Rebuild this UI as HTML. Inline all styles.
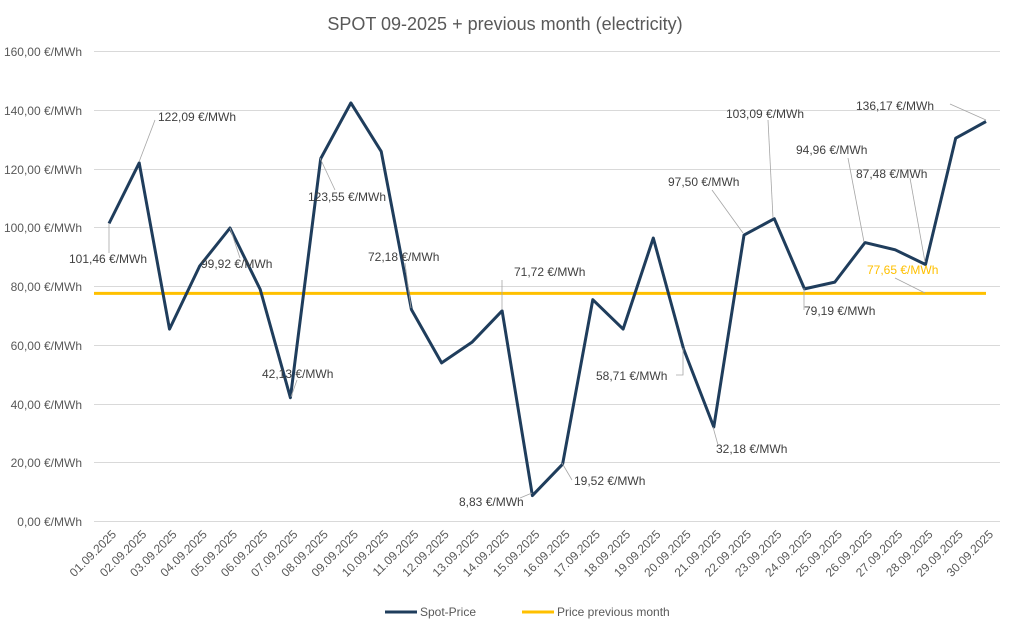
<!DOCTYPE html>
<html><head><meta charset="utf-8"><style>body{margin:0;background:#fff}svg{display:block;font-family:"Liberation Sans",sans-serif}</style></head><body>
<svg width="1024" height="634" viewBox="0 0 1024 634">
<text x="505" y="30" text-anchor="middle" font-size="18" fill="#595959">SPOT 09-2025 + previous month (electricity)</text>
<g stroke="#d9d9d9" stroke-width="1">
<line x1="94" x2="1000" y1="51.5" y2="51.5"/><line x1="94" x2="1000" y1="110.5" y2="110.5"/><line x1="94" x2="1000" y1="169.5" y2="169.5"/><line x1="94" x2="1000" y1="227.5" y2="227.5"/><line x1="94" x2="1000" y1="286.5" y2="286.5"/><line x1="94" x2="1000" y1="345.5" y2="345.5"/><line x1="94" x2="1000" y1="404.5" y2="404.5"/><line x1="94" x2="1000" y1="462.5" y2="462.5"/><line x1="94" x2="1000" y1="521.5" y2="521.5"/>
</g>
<g font-size="12" fill="#595959" text-anchor="end">
<text x="82" y="56">160,00 €/MWh</text><text x="82" y="115">140,00 €/MWh</text><text x="82" y="174">120,00 €/MWh</text><text x="82" y="232">100,00 €/MWh</text><text x="82" y="291">80,00 €/MWh</text><text x="82" y="350">60,00 €/MWh</text><text x="82" y="409">40,00 €/MWh</text><text x="82" y="467">20,00 €/MWh</text><text x="82" y="526">0,00 €/MWh</text>
</g>
<g font-size="12" fill="#595959" text-anchor="end">
<text transform="translate(117,535) rotate(-45)">01.09.2025</text>
<text transform="translate(147.2,535) rotate(-45)">02.09.2025</text>
<text transform="translate(177.5,535) rotate(-45)">03.09.2025</text>
<text transform="translate(207.7,535) rotate(-45)">04.09.2025</text>
<text transform="translate(238,535) rotate(-45)">05.09.2025</text>
<text transform="translate(268.2,535) rotate(-45)">06.09.2025</text>
<text transform="translate(298.4,535) rotate(-45)">07.09.2025</text>
<text transform="translate(328.7,535) rotate(-45)">08.09.2025</text>
<text transform="translate(358.9,535) rotate(-45)">09.09.2025</text>
<text transform="translate(389.2,535) rotate(-45)">10.09.2025</text>
<text transform="translate(419.4,535) rotate(-45)">11.09.2025</text>
<text transform="translate(449.6,535) rotate(-45)">12.09.2025</text>
<text transform="translate(479.9,535) rotate(-45)">13.09.2025</text>
<text transform="translate(510.1,535) rotate(-45)">14.09.2025</text>
<text transform="translate(540.4,535) rotate(-45)">15.09.2025</text>
<text transform="translate(570.6,535) rotate(-45)">16.09.2025</text>
<text transform="translate(600.8,535) rotate(-45)">17.09.2025</text>
<text transform="translate(631.1,535) rotate(-45)">18.09.2025</text>
<text transform="translate(661.3,535) rotate(-45)">19.09.2025</text>
<text transform="translate(691.6,535) rotate(-45)">20.09.2025</text>
<text transform="translate(721.8,535) rotate(-45)">21.09.2025</text>
<text transform="translate(752,535) rotate(-45)">22.09.2025</text>
<text transform="translate(782.3,535) rotate(-45)">23.09.2025</text>
<text transform="translate(812.5,535) rotate(-45)">24.09.2025</text>
<text transform="translate(842.8,535) rotate(-45)">25.09.2025</text>
<text transform="translate(873,535) rotate(-45)">26.09.2025</text>
<text transform="translate(903.2,535) rotate(-45)">27.09.2025</text>
<text transform="translate(933.5,535) rotate(-45)">28.09.2025</text>
<text transform="translate(963.7,535) rotate(-45)">29.09.2025</text>
<text transform="translate(994,535) rotate(-45)">30.09.2025</text>
</g>
<polyline fill="none" stroke="#ffc000" stroke-width="3" points="94,293.4 986,293.4"/>
<polyline fill="none" stroke="#1f3d5c" stroke-width="3" stroke-linejoin="round" points="109,223.5 139.2,162.9 169.5,329.1 199.7,266 230,228 260.2,289.4 290.4,397.7 320.7,158.6 350.9,102.9 381.2,151.4 411.4,309.5 441.6,362.9 471.9,342.3 502.1,310.8 532.4,495.6 562.6,464.2 592.8,299.7 623.1,329.1 653.3,238 683.6,349 713.8,427 744,235.1 774.3,218.7 804.5,288.9 834.8,282.1 865,242.6 895.2,249.8 925.5,264.5 955.7,138.2 986,121.5"/>
<g stroke="#a6a6a6" stroke-width="0.8" fill="none">
<polyline points="109,223 109,253"/><polyline points="139,162 155,120"/><polyline points="230,228 240,258"/><polyline points="291,397 297,380"/><polyline points="320,158 335,190"/><polyline points="411,308 405,263"/><polyline points="502,310 502,280"/><polyline points="532,493 520,498"/><polyline points="562,463 572,480"/><polyline points="683,348 683,375 676,375"/><polyline points="713,427 718,445"/><polyline points="743,233 712,190"/><polyline points="773,218 768,120"/><polyline points="804,288 804,310"/><polyline points="864,242 848,158"/><polyline points="925,262 910,178"/><polyline points="925,293 895,278"/><polyline points="986,120 950,104"/>
</g>
<g font-size="12" fill="#404040">
<text x="69" y="263">101,46 €/MWh</text>
<text x="158" y="121">122,09 €/MWh</text>
<text x="201" y="268">99,92 €/MWh</text>
<text x="262" y="378">42,13 €/MWh</text>
<text x="308" y="201">123,55 €/MWh</text>
<text x="368" y="261">72,18 €/MWh</text>
<text x="514" y="276">71,72 €/MWh</text>
<text x="459" y="506">8,83 €/MWh</text>
<text x="574" y="485">19,52 €/MWh</text>
<text x="596" y="380">58,71 €/MWh</text>
<text x="716" y="453">32,18 €/MWh</text>
<text x="668" y="186">97,50 €/MWh</text>
<text x="726" y="118">103,09 €/MWh</text>
<text x="804" y="315">79,19 €/MWh</text>
<text x="796" y="154">94,96 €/MWh</text>
<text x="856" y="178">87,48 €/MWh</text>
<text x="867" y="274" fill="#ffc000">77,65 €/MWh</text>
<text x="856" y="110">136,17 €/MWh</text>
</g>
<line x1="385" x2="417" y1="612" y2="612" stroke="#1f3d5c" stroke-width="3"/>
<text x="420" y="616" font-size="12" fill="#595959">Spot-Price</text>
<line x1="522" x2="554" y1="612" y2="612" stroke="#ffc000" stroke-width="3"/>
<text x="557" y="616" font-size="12" fill="#595959">Price previous month</text>
</svg>
</body></html>
